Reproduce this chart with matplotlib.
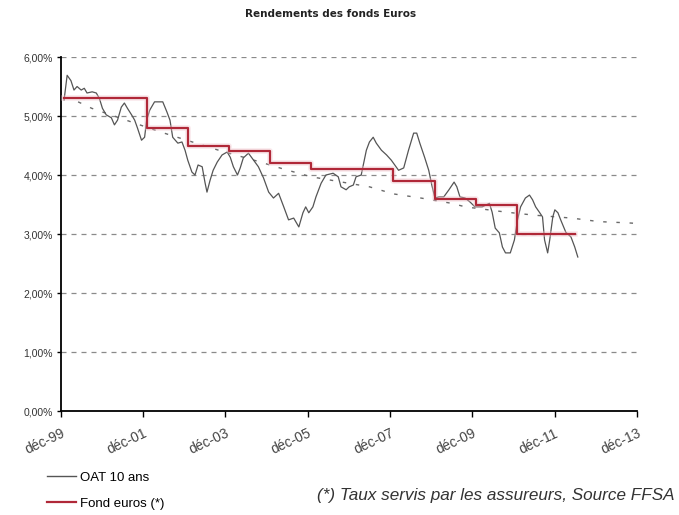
import matplotlib
matplotlib.use("Agg")
import matplotlib.pyplot as plt
from matplotlib.lines import Line2D

# Mois écoulés depuis déc-99 et taux (en %)
oat_mois = [0.9, 1.8, 2.9, 3.8, 4.7, 5.9, 6.8, 7.6, 9.1, 10.3, 11.2, 12.1, 13.2, 14.7,
            15.6, 16.5, 17.6, 18.5, 19.4, 20.6, 21.5, 22.3, 23.5, 24.4, 25.0, 25.9,
            27.3, 29.7, 30.9, 31.8, 32.6, 34.1, 35.3, 36.2, 37.0, 38.2, 39.1, 40.0,
            41.2, 42.0, 42.6, 43.5, 44.4, 45.6, 47.0, 48.5, 49.4, 50.3, 51.5, 52.3,
            53.2, 54.7, 56.2, 57.6, 59.1, 60.6, 62.0, 63.5, 65.0, 66.4, 67.9, 69.4,
            70.6, 71.4, 72.3, 73.5, 74.4, 75.9, 77.3, 79.4, 80.9, 81.7, 83.2, 84.1,
            85.3, 86.1, 87.6, 88.2, 89.1, 90.0, 91.1, 92.0, 93.5, 95.0, 96.4, 98.5,
            100.0, 101.4, 102.9, 103.8, 104.7, 106.1, 107.3, 108.2, 109.1, 110.3,
            111.7, 113.2, 114.7, 115.5, 116.4, 117.9, 119.4, 120.8, 122.9, 125.0,
            125.8, 126.7, 127.9, 128.8, 129.7, 131.1, 132.3, 133.2, 134.1, 135.5,
            136.7, 137.6, 138.5, 139.7, 140.5, 141.1, 142.0, 142.6, 143.5, 144.1,
            145.0, 145.8, 147.3, 148.8, 149.9, 150.8]
oat_taux = [5.27, 5.69, 5.60, 5.44, 5.50, 5.44, 5.47, 5.39, 5.41, 5.39, 5.30, 5.13,
            5.02, 4.97, 4.85, 4.93, 5.15, 5.22, 5.13, 5.02, 4.93, 4.80, 4.59, 4.64,
            4.93, 5.10, 5.24, 5.24, 5.07, 4.93, 4.64, 4.54, 4.56, 4.42, 4.25, 4.05,
            4.00, 4.17, 4.14, 3.88, 3.71, 3.91, 4.08, 4.22, 4.34, 4.39, 4.30, 4.14,
            4.00, 4.12, 4.29, 4.37, 4.25, 4.14, 3.95, 3.71, 3.61, 3.69, 3.46, 3.24,
            3.27, 3.12, 3.36, 3.46, 3.36, 3.46, 3.63, 3.86, 4.00, 4.03, 3.97, 3.80,
            3.75, 3.80, 3.83, 3.97, 4.00, 4.17, 4.42, 4.56, 4.64, 4.54, 4.42, 4.34,
            4.25, 4.08, 4.12, 4.42, 4.71, 4.71, 4.54, 4.30, 4.08, 3.83, 3.61, 3.63,
            3.63, 3.75, 3.88, 3.80, 3.63, 3.61, 3.54, 3.46, 3.46, 3.52, 3.37, 3.10,
            3.02, 2.78, 2.68, 2.68, 2.90, 3.24, 3.46, 3.61, 3.66, 3.58, 3.46, 3.36,
            3.29, 2.90, 2.68, 2.90, 3.29, 3.41, 3.36, 3.24, 3.03, 2.95, 2.78, 2.61]

fonds_mois = [1, 25, 37, 49, 61, 73, 97, 109, 121, 133, 150]
fonds_taux = [5.3, 4.8, 4.5, 4.4, 4.2, 4.1, 3.9, 3.6, 3.5, 3.0, 3.0]

tendance_mois = [5, 9, 29, 46, 57, 65, 73, 90, 97, 105, 114, 118, 130, 138, 149, 157, 165, 168]
tendance_taux = [5.24, 5.13, 4.73, 4.42, 4.24, 4.10, 3.97, 3.80, 3.68, 3.61, 3.52, 3.46,
                 3.37, 3.32, 3.27, 3.21, 3.19, 3.18]

ticks_mois = [0, 24, 48, 72, 96, 120, 144, 168]
ticks_labels = ["déc-99", "déc-01", "déc-03", "déc-05", "déc-07", "déc-09", "déc-11", "déc-13"]
y_ticks = [0, 1, 2, 3, 4, 5, 6]
y_labels = ["0,00%", "1,00%", "2,00%", "3,00%", "4,00%", "5,00%", "6,00%"]

gris = "#555555"
rouge = "#b02838"

fig = plt.figure(figsize=(6.79, 5.15), dpi=100)
ax = fig.add_axes([0.0898, 0.2019, 0.848, 0.6874])

for y in y_ticks[1:]:
    ax.axhline(y, color="#8a8a8a", lw=0.9, ls=(0, (4, 4)), zorder=1)

ax.plot(tendance_mois, tendance_taux, color="#6a6a6a", lw=1.0, ls=(0, (2.5, 7)), zorder=2)
ax.plot(oat_mois, oat_taux, color=gris, lw=0.9, zorder=3)
ax.step(fonds_mois, fonds_taux, where="post", color="#f2c4cc", lw=4, alpha=0.4, zorder=3)
ax.step(fonds_mois, fonds_taux, where="post", color=rouge, lw=1.6, zorder=4)

ax.set_xlim(0, 168)
ax.set_ylim(0, 6)
ax.set_xticks(ticks_mois)
ax.set_xticklabels(ticks_labels, rotation=25, ha="right", rotation_mode="anchor",
                   fontsize=10, color="#444444", family="Liberation Sans")
ax.set_yticks(y_ticks)
ax.set_yticklabels(y_labels, fontsize=7.5, color="#333333", family="Liberation Sans")
ax.tick_params(axis="x", length=4, width=1, direction="out", pad=7)
ax.tick_params(axis="y", length=3, width=1, direction="out", pad=3)
for s in ["top", "right"]:
    ax.spines[s].set_visible(False)
ax.spines["left"].set_linewidth(1.3)
ax.spines["bottom"].set_linewidth(1.3)

fig.text(0.487, 0.972, "Rendements des fonds Euros", ha="center", va="center",
         fontsize=7.5, fontweight="bold", color="#222222")

poignees = [Line2D([], [], color=gris, lw=1.0), Line2D([], [], color=rouge, lw=1.6)]
fig.legend(poignees, ["OAT 10 ans", "Fond euros (*)"], loc="upper left",
           bbox_to_anchor=(0.062, 0.095), frameon=False, handlelength=2.2,
           handletextpad=0.3, labelspacing=1.05, borderaxespad=0,
           prop={"family": "Liberation Sans", "size": 9.5})

fig.text(0.994, 0.037, "(*) Taux servis par les assureurs, Source FFSA", ha="right",
         va="center", fontsize=12.3, style="italic", color="#333333",
         family="Liberation Sans")

fig.savefig("out.png", dpi=100)
